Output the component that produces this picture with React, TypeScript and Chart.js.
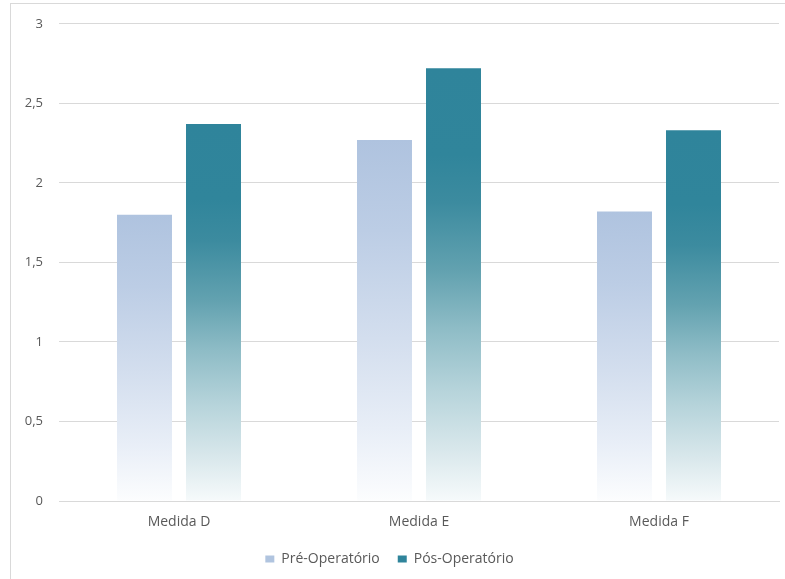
import { useEffect, useRef } from 'react';
import { Chart, registerables } from 'chart.js';

Chart.register(...registerables);

const categories = ['Medida D', 'Medida E', 'Medida F'];
const seriesNames = ['Pré-Operatório', 'Pós-Operatório'];
const preOperatorio = [1.8, 2.27, 1.82];
const posOperatorio = [2.37, 2.72, 2.33];
const yTickValues = [0, 0.5, 1, 1.5, 2, 2.5, 3];

const preSolid = '#b0c4df';
const posSolid = '#2f849b';

const preStops: [number, string][] = [
  [0, '#afc3df'],
  [0.25, '#bccde5'],
  [0.55, '#d3deee'],
  [0.8, '#e8eef7'],
  [1, '#fcfdfe'],
];
const posStops: [number, string][] = [
  [0, '#2f849b'],
  [0.2, '#30859b'],
  [0.31, '#3c8b9f'],
  [0.47, '#63a2b0'],
  [0.6, '#8ebcc6'],
  [0.74, '#b5d3da'],
  [0.88, '#d8e7eb'],
  [1, '#f6fafb'],
];

function gradientFill(stops: [number, string][], solid: string) {
  return (ctx: any) => {
    const chart = ctx.chart;
    const sy = chart.scales && chart.scales.y;
    if (!chart.chartArea || !sy || ctx.type !== 'data') return solid;
    const v = ctx.raw as number;
    const top = sy.getPixelForValue(v);
    const bot = sy.getPixelForValue(0);
    if (!isFinite(top) || !isFinite(bot) || top === bot) return solid;
    const g = chart.ctx.createLinearGradient(0, top, 0, bot);
    stops.forEach(([o, c]) => g.addColorStop(o, c));
    return g;
  };
}

const FONT = "'Open Sans', 'Noto Sans', sans-serif";

export default function App() {
  const ref = useRef<HTMLCanvasElement | null>(null);

  useEffect(() => {
    if (!ref.current) return;
    const legendColors = [preSolid, posSolid];
    const chart = new Chart(ref.current, {
      type: 'bar',
      data: {
        labels: categories,
        datasets: [
          {
            label: seriesNames[0],
            data: preOperatorio,
            backgroundColor: gradientFill(preStops, preSolid),
            borderWidth: 0,
            categoryPercentage: 0.575,
            barPercentage: 0.797,
          },
          {
            label: seriesNames[1],
            data: posOperatorio,
            backgroundColor: gradientFill(posStops, posSolid),
            borderWidth: 0,
            categoryPercentage: 0.575,
            barPercentage: 0.797,
          },
        ],
      },
      options: {
        animation: false,
        responsive: false,
        maintainAspectRatio: false,
        devicePixelRatio: 1,
        layout: { padding: { left: 0, right: 6, top: 23, bottom: 3 } },
        plugins: {
          title: { display: false },
          tooltip: { enabled: false },
          legend: {
            display: true,
            position: 'bottom',
            labels: {
              boxWidth: 9,
              boxHeight: 7,
              padding: 18,
              color: '#595959',
              font: { family: FONT, size: 14 },
              generateLabels: (c: any) => {
                const items = (Chart.defaults.plugins.legend.labels as any).generateLabels(c);
                items.forEach((it: any, i: number) => {
                  it.fillStyle = legendColors[i];
                  it.strokeStyle = legendColors[i];
                  it.lineWidth = 0;
                });
                return items;
              },
            },
          },
        },
        scales: {
          x: {
            grid: { display: false, drawTicks: false },
            border: { display: true, color: '#d9d9d9', width: 1 },
            ticks: {
              color: '#595959',
              font: { family: FONT, size: 14 },
              padding: 13,
            },
            afterFit: (s: any) => {
              s.height = 33;
            },
          },
          y: {
            min: 0,
            max: 3,
            afterBuildTicks: (s: any) => {
              s.ticks = yTickValues.map((v) => ({ value: v }));
            },
            grid: { color: '#d9d9d9', lineWidth: 1, drawTicks: false },
            border: { display: false },
            ticks: {
              color: '#595959',
              font: { family: FONT, size: 13 },
              padding: 16,
              callback: (v: any) => String(v).replace('.', ','),
            },
            afterFit: (s: any) => {
              s.width = 59;
            },
          },
        },
      },
    });
    return () => chart.destroy();
  }, []);

  return (
    <div
      style={{
        position: 'fixed',
        left: 0,
        top: 0,
        width: 785,
        height: 579,
        overflow: 'hidden',
        background: '#ffffff',
      }}
    >
      <div
        style={{
          position: 'absolute',
          left: 10,
          top: 3,
          width: 800,
          height: 600,
          border: '1px solid #d9d9d9',
          boxSizing: 'border-box',
        }}
      />
      <canvas
        ref={ref}
        width={785}
        height={579}
        style={{ position: 'absolute', left: 0, top: 0, width: 785, height: 579 }}
      />
    </div>
  );
}
